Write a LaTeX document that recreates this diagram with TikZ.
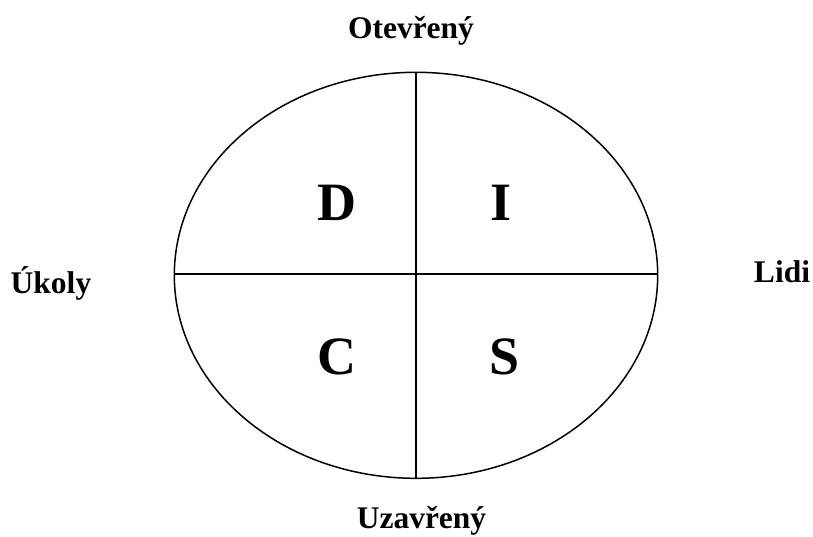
\documentclass[tikz,border=0pt]{standalone}
\usepackage{fontspec}
\setmainfont{Liberation Serif}
\usetikzlibrary{shapes.geometric}
\begin{document}
\begin{tikzpicture}[x=1pt,y=-1pt,
  lbl/.style={font=\fontsize{31.5}{36}\selectfont\bfseries,anchor=base,inner sep=0pt},
  big/.style={font=\fontsize{54}{60}\selectfont\bfseries,anchor=base,inner sep=0pt},
  ln/.style={line width=1.5pt,black}]
\useasboundingbox (0,0) rectangle (813,536);
\node[draw,ln,ellipse,minimum width=483.4pt,minimum height=406pt,inner sep=0pt] (ell) at (416,275.3) {};
\coordinate (top) at (416,72.3);
\coordinate (bot) at (416,478.3);
\coordinate (lft) at (174.3,274);
\coordinate (rgt) at (657.7,274);
\draw[ln] (top) -- (bot);
\draw[ln] (lft) -- (rgt);
\node[big] (D) at (336.5,220) {D};
\node[big] (I) at (501,220) {I};
\node[big] (C) at (337,374) {C};
\node[big] (S) at (504.5,374) {S};
\node[lbl] (otev) at (411,38) {Otevřený};
\node[lbl] (ukoly) at (51,293) {Úkoly};
\node[lbl] (lidi) at (782,282) {Lidi};
\node[lbl] (uzav) at (421.5,528) {Uzavřený};
\end{tikzpicture}
\end{document}
